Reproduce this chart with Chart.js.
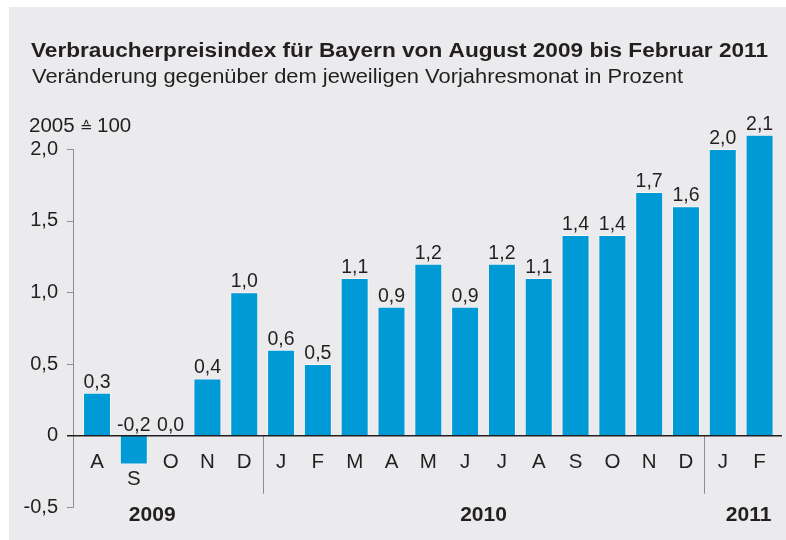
<!DOCTYPE html>
<html>
<head>
<meta charset="utf-8">
<script src="https://cdn.jsdelivr.net/npm/chart.js@4.4.1/dist/chart.umd.min.js"></script>
<style>
  html, body { margin: 0; padding: 0; background: #ffffff; }
  #wrap { width: 786px; height: 540px; }
</style>
</head>
<body>
<div id="wrap"><canvas id="c" width="786" height="540"></canvas></div>
<script>
// ---- data ----
const months = ['A','S','O','N','D','J','F','M','A','M','J','J','A','S','O','N','D','J','F'];
const values = [0.3, -0.2, 0.0, 0.4, 1.0, 0.6, 0.5, 1.1, 0.9, 1.2, 0.9, 1.2, 1.1, 1.4, 1.4, 1.7, 1.6, 2.0, 2.1];
const yearLabels = ['2009', '2010', '2011'];
const yearFirstIndex = [0, 5, 17];
const yearLastIndex = [4, 16, 18];
const yTickValues = [-0.5, 0, 0.5, 1.0, 1.5, 2.0];
const yTickLabels = ['-0,5', '0', '0,5', '1,0', '1,5', '2,0'];
const titleText = 'Verbraucherpreisindex für Bayern von August 2009 bis Februar 2011';
const subtitleText = 'Veränderung gegenüber dem jeweiligen Vorjahresmonat in Prozent';
const unitParts = ['2005', '\u2259', '100'];

// ---- style ----
const FONT = '"Liberation Sans", Arial, Helvetica, sans-serif';
const TEXT = '#231f20';
const BLUE = '#009bd6';
const PANEL = '#ebebed';
const GREY = '#8e8e8e';

function fmt(v) { return v.toFixed(1).replace('.', ','); }

function drawStretched(ctx, text, x, y, font, targetWidth) {
  ctx.save();
  ctx.font = font;
  const w = ctx.measureText(text).width;
  const sx = targetWidth ? targetWidth / w : 1;
  ctx.translate(x, y);
  ctx.scale(sx, 1);
  ctx.fillText(text, 0, 0);
  ctx.restore();
}

const decor = {
  id: 'decor',
  beforeDraw(chart) {
    const ctx = chart.ctx;
    ctx.save();
    ctx.fillStyle = '#ffffff';
    ctx.fillRect(0, 0, chart.width, chart.height);
    ctx.fillStyle = PANEL;
    ctx.fillRect(9, 7, chart.width - 9, chart.height - 7);
    // titles
    ctx.fillStyle = TEXT;
    ctx.textAlign = 'left';
    ctx.textBaseline = 'alphabetic';
    drawStretched(ctx, titleText, 31, 57, 'bold 20px ' + FONT, 737);
    drawStretched(ctx, subtitleText, 32, 83, '20px ' + FONT, 651);
    // unit label "2005 ≙ 100"
    ctx.font = '20.5px ' + FONT;
    ctx.fillText(unitParts[0], 29, 132);
    ctx.font = '15px "DejaVu Sans", sans-serif';
    ctx.fillText(unitParts[1], 80, 132);
    ctx.font = '20.5px ' + FONT;
    ctx.fillText(unitParts[2], 97, 132);
    ctx.restore();
  },
  afterDatasetsDraw(chart) {
    const ctx = chart.ctx;
    const x = chart.scales.x;
    const y = chart.scales.y;
    const y0 = y.getPixelForValue(0);
    const yTop = y.getPixelForValue(y.max);
    const yBot = y.getPixelForValue(y.min);
    const axisX = chart.chartArea.left - 5.5;
    ctx.save();
    // y axis line and ticks
    ctx.strokeStyle = GREY;
    ctx.lineWidth = 1;
    ctx.beginPath();
    ctx.moveTo(Math.round(axisX) + 0.5, yTop);
    ctx.lineTo(Math.round(axisX) + 0.5, yBot);
    yTickValues.forEach(v => {
      if (v === 0) return;
      const py = Math.round(y.getPixelForValue(v)) + 0.5;
      ctx.moveTo(Math.round(axisX) - 6, py);
      ctx.lineTo(Math.round(axisX) + 0.5, py);
    });
    ctx.stroke();
    // year separators
    ctx.beginPath();
    for (let k = 1; k < yearFirstIndex.length; k++) {
      const sx = Math.round((x.getPixelForValue(yearFirstIndex[k]) + x.getPixelForValue(yearLastIndex[k - 1])) / 2) + 0.5;
      ctx.moveTo(sx, y0);
      ctx.lineTo(sx, y0 + 58);
    }
    ctx.stroke();
    // zero line
    ctx.strokeStyle = TEXT;
    ctx.lineWidth = 1.6;
    ctx.beginPath();
    ctx.moveTo(Math.round(axisX) - 6, y0);
    ctx.lineTo(chart.chartArea.right + 4, y0);
    ctx.stroke();

    // value labels and month labels
    const meta = chart.getDatasetMeta(0);
    ctx.fillStyle = TEXT;
    ctx.textAlign = 'center';
    ctx.textBaseline = 'alphabetic';
    meta.data.forEach((bar, i) => {
      const v = values[i];
      ctx.font = '19.5px ' + FONT;
      const top = v > 0 ? bar.y : y0;
      ctx.fillText(fmt(v), bar.x, top - 5);
      ctx.font = '20.5px ' + FONT;
      const my = v < 0 ? bar.y + 21 : y0 + 32;
      ctx.fillText(months[i], bar.x, my);
    });
    // year labels
    ctx.font = 'bold 21px ' + FONT;
    const yearPos = [1.5, (yearFirstIndex[1] + yearLastIndex[1]) / 2, 17.7];
    yearLabels.forEach((t, k) => {
      ctx.fillText(t, x.getPixelForValue(yearPos[k]), 521);
    });
    ctx.restore();
  }
};

new Chart(document.getElementById('c'), {
  type: 'bar',
  data: {
    labels: months,
    datasets: [{
      data: values,
      backgroundColor: BLUE,
      borderColor: 'rgba(255,255,255,0.55)',
      borderWidth: 1,
      categoryPercentage: 1,
      barPercentage: 0.76,
      clip: false
    }]
  },
  options: {
    responsive: false,
    animation: false,
    devicePixelRatio: 1,
    layout: { padding: { left: 0, top: 149, right: 8, bottom: 30 } },
    plugins: { legend: { display: false }, tooltip: { enabled: false }, title: { display: false } },
    scales: {
      x: { display: false, offset: true },
      y: {
        min: -0.5,
        max: 2.0,
        afterFit(scale) { scale.width = 78.6; },
        afterBuildTicks(scale) { scale.ticks = yTickValues.map(v => ({ value: v })); },
        grid: { display: false, drawTicks: false },
        border: { display: false },
        ticks: {
          padding: 20.6,
          color: TEXT,
          font: { family: FONT, size: 20 },
          callback(v) { const i = yTickValues.indexOf(v); return i >= 0 ? yTickLabels[i] : ''; }
        }
      }
    }
  },
  plugins: [decor]
});
</script>
</body>
</html>
